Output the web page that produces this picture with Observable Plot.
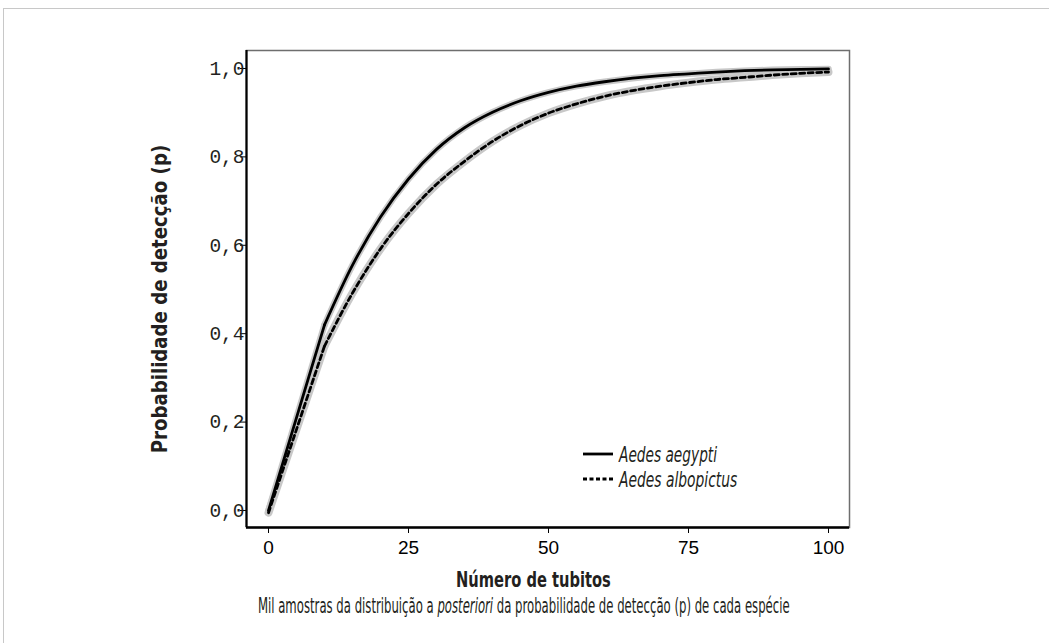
<!DOCTYPE html>
<html>
<head>
<meta charset="utf-8">
<script src="https://cdn.jsdelivr.net/npm/d3@7"></script>
<script src="https://cdn.jsdelivr.net/npm/@observablehq/plot@0.6"></script>
<style>
  html, body { margin:0; padding:0; background:#fff; }
  #wrap { position:relative; width:1049px; height:643px; overflow:hidden; }
  #border { position:absolute; left:3px; top:8px; width:1100px; height:700px; border-top:1.5px solid #c8c8c8; border-left:1.5px solid #c8c8c8; }
  .cond { font-family:"Liberation Sans Narrow","DejaVu Sans Condensed","Open Sans","Noto Sans",sans-serif; color:#231f20; position:absolute; white-space:nowrap; line-height:1; }
  #ylab { font-weight:bold; font-size:22px; }
  #xlab { font-weight:bold; font-size:22px; }
  #cap { font-size:21px; }
  .leg { font-style:italic; font-size:21px; }
  svg.sw { position:absolute; }
</style>
</head>
<body>
<div id="wrap">
  <div id="border"></div>
  <div id="chart"></div>
</div>
<script>
// Data
const tubitos = [0, 10, 15, 20, 25, 30, 35, 40, 45, 50, 55, 60, 65, 70, 75, 80, 85, 90, 95, 100];
const aegypti = [0.000, 0.420, 0.555, 0.664, 0.750, 0.817, 0.866, 0.901, 0.927, 0.946, 0.960, 0.970, 0.978, 0.984, 0.988, 0.992, 0.995, 0.997, 0.998, 0.999];
const albopictus = [-0.005, 0.372, 0.492, 0.592, 0.672, 0.738, 0.790, 0.835, 0.871, 0.899, 0.920, 0.937, 0.950, 0.960, 0.968, 0.975, 0.980, 0.985, 0.989, 0.992];
const seriesNames = ["Aedes aegypti", "Aedes albopictus"];
const xTicks = [0, 25, 50, 75, 100];
const yTicks = [0, 0.2, 0.4, 0.6, 0.8, 1.0];
const xDomain = [-3.93, 103.75];
const yDomain = [-0.0385, 1.0407];

const rowsA = tubitos.map((t, i) => ({x: t, y: aegypti[i]}));
const rowsB = tubitos.map((t, i) => ({x: t, y: albopictus[i]}));
const head = r => r.filter(d => d.x <= 10);
const tail = r => r.filter(d => d.x >= 10);

function curveMarks(rows, opts) {
  return [
    Plot.lineY(head(rows), {x: "x", y: "y", curve: "linear", ...opts}),
    Plot.lineY(tail(rows), {x: "x", y: "y", curve: "monotone-x", ...opts})
  ];
}

const chart = Plot.plot({
  width: 1049,
  height: 643,
  marginLeft: 246,
  marginRight: 200,
  marginTop: 50,
  marginBottom: 116,
  x: {domain: xDomain},
  y: {domain: yDomain},
  style: {background: "transparent", color: "#231f20"},
  marks: [
    Plot.frame({stroke: "#6e6e6e", strokeWidth: 1.5}),
    ...curveMarks(rowsA, {stroke: "#c8c8c8", strokeWidth: 6.5}),
    ...curveMarks(rowsB, {stroke: "#c8c8c8", strokeWidth: 8}),
    ...curveMarks(rowsA, {stroke: "#000", strokeWidth: 2.8}),
    ...curveMarks(rowsB, {stroke: "#000", strokeWidth: 2.8, strokeDasharray: "5,3.5"}),
    Plot.ruleX([xDomain[0]], {stroke: "#000", strokeWidth: 2.2}),
    Plot.ruleY([yDomain[0]], {stroke: "#000", strokeWidth: 2.4}),
    Plot.axisY({ticks: yTicks, tickFormat: d => d.toFixed(1).replace(".", ","), tickSize: 6, tickPadding: -4,
      fontFamily: "Liberation Mono, DejaVu Sans Mono, monospace", fontSize: 19.5, label: null, stroke: "#000", fill: "#231f20"}),
    Plot.axisX({ticks: xTicks, tickSize: 6, tickPadding: 7, label: null, stroke: "#000",
      fontFamily: "Liberation Sans, Arial, sans-serif", fontSize: 19, fill: "#000", style: {letterSpacing: "1.5px"}})
  ]
});
document.getElementById("chart").appendChild(chart);

const wrap = document.getElementById("wrap");
function addText(id, cls, html) {
  const d = document.createElement("div");
  if (id) d.id = id;
  d.className = cls;
  d.innerHTML = html;
  wrap.appendChild(d);
  return d;
}
function placeCentered(el, cx, cy, w, rotate) {
  const nat = el.offsetWidth, h = el.offsetHeight;
  const s = w / nat;
  el.style.left = (cx - nat / 2) + "px";
  el.style.top = (cy - h / 2) + "px";
  el.style.transformOrigin = "50% 50%";
  el.style.transform = (rotate ? "rotate(-90deg) " : "") + "scaleX(" + s + ")";
}
function placeLeft(el, x, cy, w) {
  const nat = el.offsetWidth, h = el.offsetHeight;
  el.style.left = x + "px";
  el.style.top = (cy - h / 2) + "px";
  el.style.transformOrigin = "0 50%";
  el.style.transform = "scaleX(" + (w / nat) + ")";
}
const yl = addText("ylab", "cond", "Probabilidade de detecção (p)");
const xl = addText("xlab", "cond", "Número de tubitos");
const cp = addText("cap", "cond", "Mil amostras da distribuição a <i>posteriori</i> da probabilidade de detecção (p) de cada espécie");
const l1 = addText(null, "cond leg", seriesNames[0]);
const l2 = addText(null, "cond leg", seriesNames[1]);
placeCentered(yl, 160, 299, 308, true);
placeCentered(xl, 533, 580, 155, false);
placeCentered(cp, 524, 606, 532, false);
placeLeft(l1, 619, 455, 98);
placeLeft(l2, 619, 480, 118);

const ns = "http://www.w3.org/2000/svg";
[[454, null], [479, "4,2.5"]].forEach(([top, dash]) => {
  const s = document.createElementNS(ns, "svg");
  s.setAttribute("class", "sw");
  s.setAttribute("width", 32); s.setAttribute("height", 6);
  s.style.left = "582px"; s.style.top = (top - 3) + "px";
  const ln = document.createElementNS(ns, "line");
  ln.setAttribute("x1", 1); ln.setAttribute("x2", 31); ln.setAttribute("y1", 3); ln.setAttribute("y2", 3);
  ln.setAttribute("stroke", "#000"); ln.setAttribute("stroke-width", 2.8);
  if (dash) ln.setAttribute("stroke-dasharray", dash);
  s.appendChild(ln);
  wrap.appendChild(s);
});
</script>
</body>
</html>
